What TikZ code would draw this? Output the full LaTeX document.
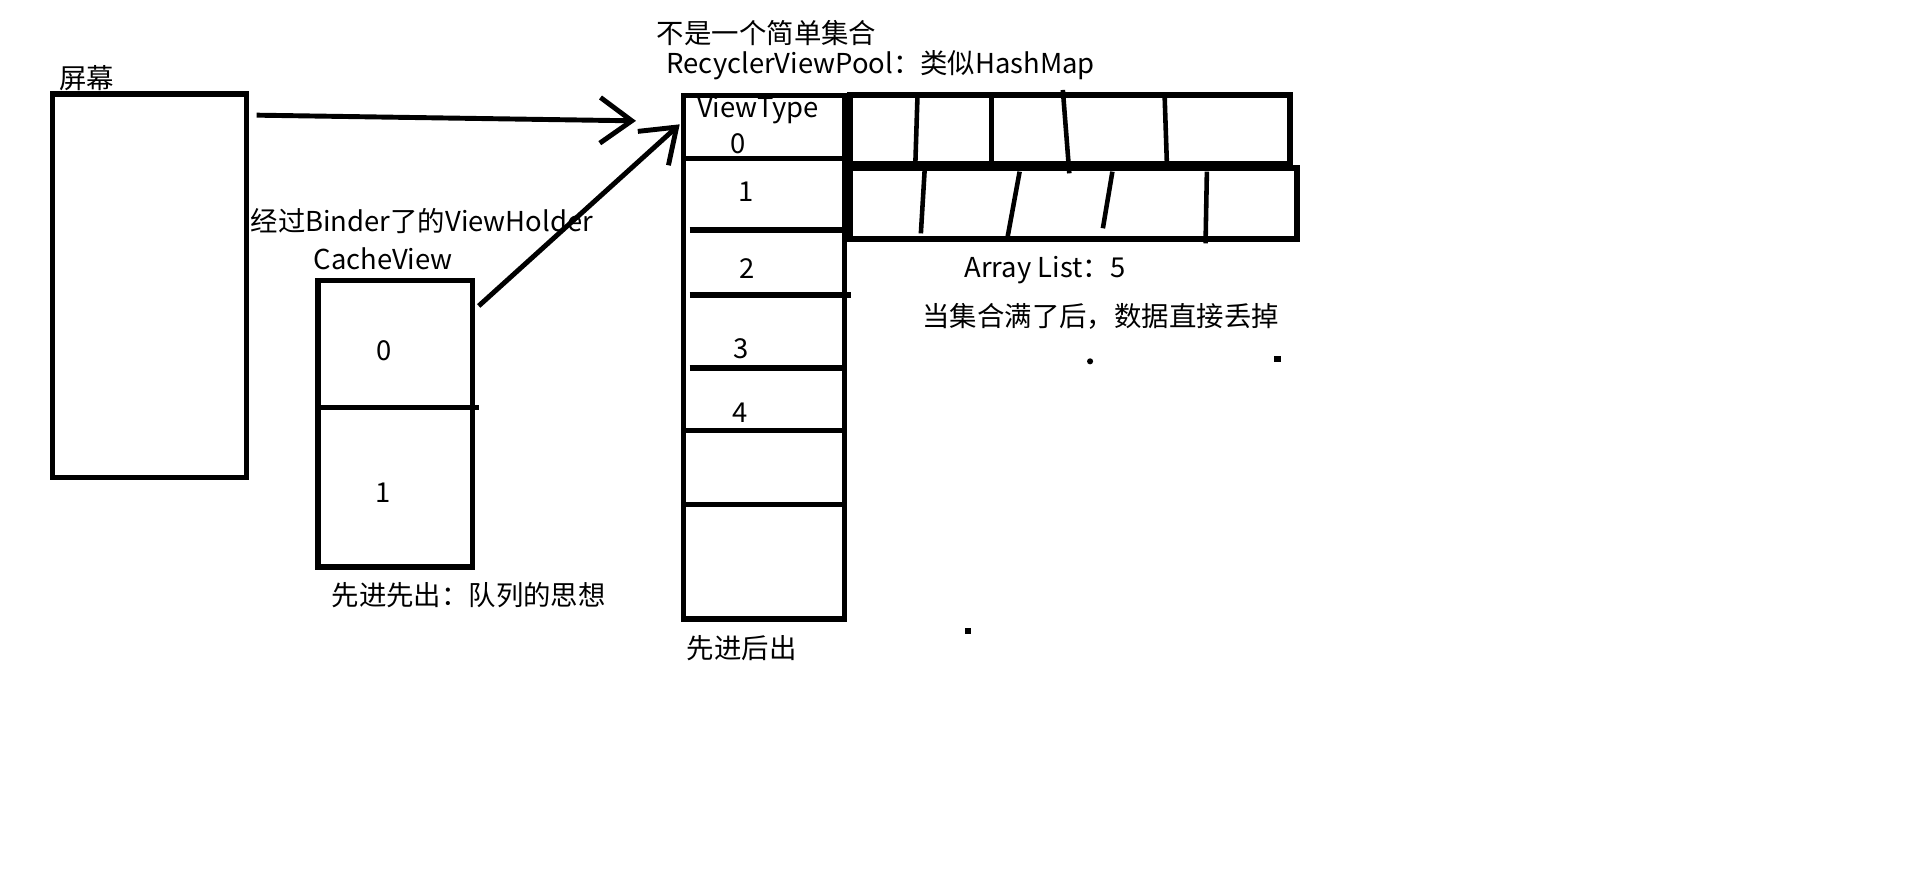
\documentclass[tikz,border=0pt]{standalone}
\usepackage{fontspec}
\setmainfont{Noto Sans CJK SC}
\usetikzlibrary{arrows.meta,calc,fit}
\tikzset{
	box/.style={draw, line width=1.5pt, inner sep=0pt},
	pen/.style={line width=1.5pt},
	slash/.style={line width=1.3pt},
	hand arrow/.style={line width=1.4pt, -{Straight Barb[length=9pt,width=13pt,line width=1.4pt]}},
	lbl/.style={inner sep=0pt, font=\fontsize{7.8}{9}\selectfont},
}
\begin{document}
\begin{tikzpicture}[x=0.012207cm, y=-0.012207cm]
			%%%%% START %%%%%
			\useasboundingbox (0,0) rectangle (1568,722);
			
			% screen
			\node[lbl] (screenlbl) at (71,64) {屏幕};
			\node[box, fit={(43,77) (202,391)}] (screen) {};
			
			% cache view
			\node[lbl] (binderlbl) at (345.6,181.2) {经过Binder了的ViewHolder};
			\node[lbl] (cachelbl) at (314,211.7) {CacheView};
			\node[box, fit={(260.4,229.8) (387,464.4)}] (cache) {};
			\draw[pen] (260.4,333.9) -- (392,333.9);
			\node[lbl] (cache0) at (315,287.4) {0};
			\node[lbl] (cache1) at (314,403.3) {1};
			\node[lbl] (fifolbl) at (384,487.7) {先进先出：队列的思想};
			
			% recycler view pool
			\node[lbl] (notsetlbl) at (628,27.3) {不是一个简单集合};
			\node[lbl] (poollbl) at (721.5,53.2) {RecyclerViewPool：类似HashMap};
			\node[box, fit={(560,78) (692,507)}] (pool) {};
			\foreach \y/\xa/\xb in {129.7/560/692, 188.4/565/692, 241.7/565/697, 301.5/565/692, 352.8/560/692, 413/558/692}
				\draw[pen] (\xa,\y) -- (\xb,\y);
			\node[lbl] (viewtype) at (621,90) {ViewType};
			\node[lbl] (type0) at (605,118) {0};
			\node[lbl] (type1) at (611,157) {1};
			\node[lbl] (type2) at (612,220) {2};
			\node[lbl] (type3) at (607,286) {3};
			\node[lbl] (type4) at (606,338) {4};
			\node[lbl] (filolbl) at (607.7,531) {先进后出};
			
			% array lists
			\node[box, line width=1.7pt, fit={(696.6,78) (1057,134)}] (row0) {};
			\node[box, line width=1.7pt, fit={(696.6,138) (1062.5,196)}] (row1) {};
			\draw[slash] (751.6,79) -- (749.9,133);
			\draw[slash] (812.1,79) -- (812.1,133);
			\draw[slash] (870.7,73.7) -- (876,142);
			\draw[slash] (954.1,79) -- (955.9,133);
			\draw[slash] (757.9,132.4) -- (754.4,191.2);
			\draw[slash] (835.3,140.6) -- (825.4,194.4);
			\draw[slash] (911.3,140.6) -- (903.5,187);
			\draw[slash] (988.7,140.6) -- (987.6,199.3);
			\node[lbl] (arraylbl) at (856,221) {Array List：5};
			\node[lbl] (fulllbl) at (901.7,259) {当集合满了后，数据直接丢掉};
			
			% stray dots
			\fill (893,296) circle (2.5);
			\fill (1044,291.5) rectangle (1049,296.5);
			\fill (790.5,514.2) rectangle (795.5,519.2);
			
			% arrows
			\coordinate (poolin) at (521,99);
			\draw[hand arrow] ($(screen.north east)+(6,19.5)$) -- (poolin);
			\draw[hand arrow] ($(cache.north east)+(3,23)$) -- ($(pool.north west)+(-1,26)$);
			%%%%% END %%%%%
\end{tikzpicture}
\end{document}
